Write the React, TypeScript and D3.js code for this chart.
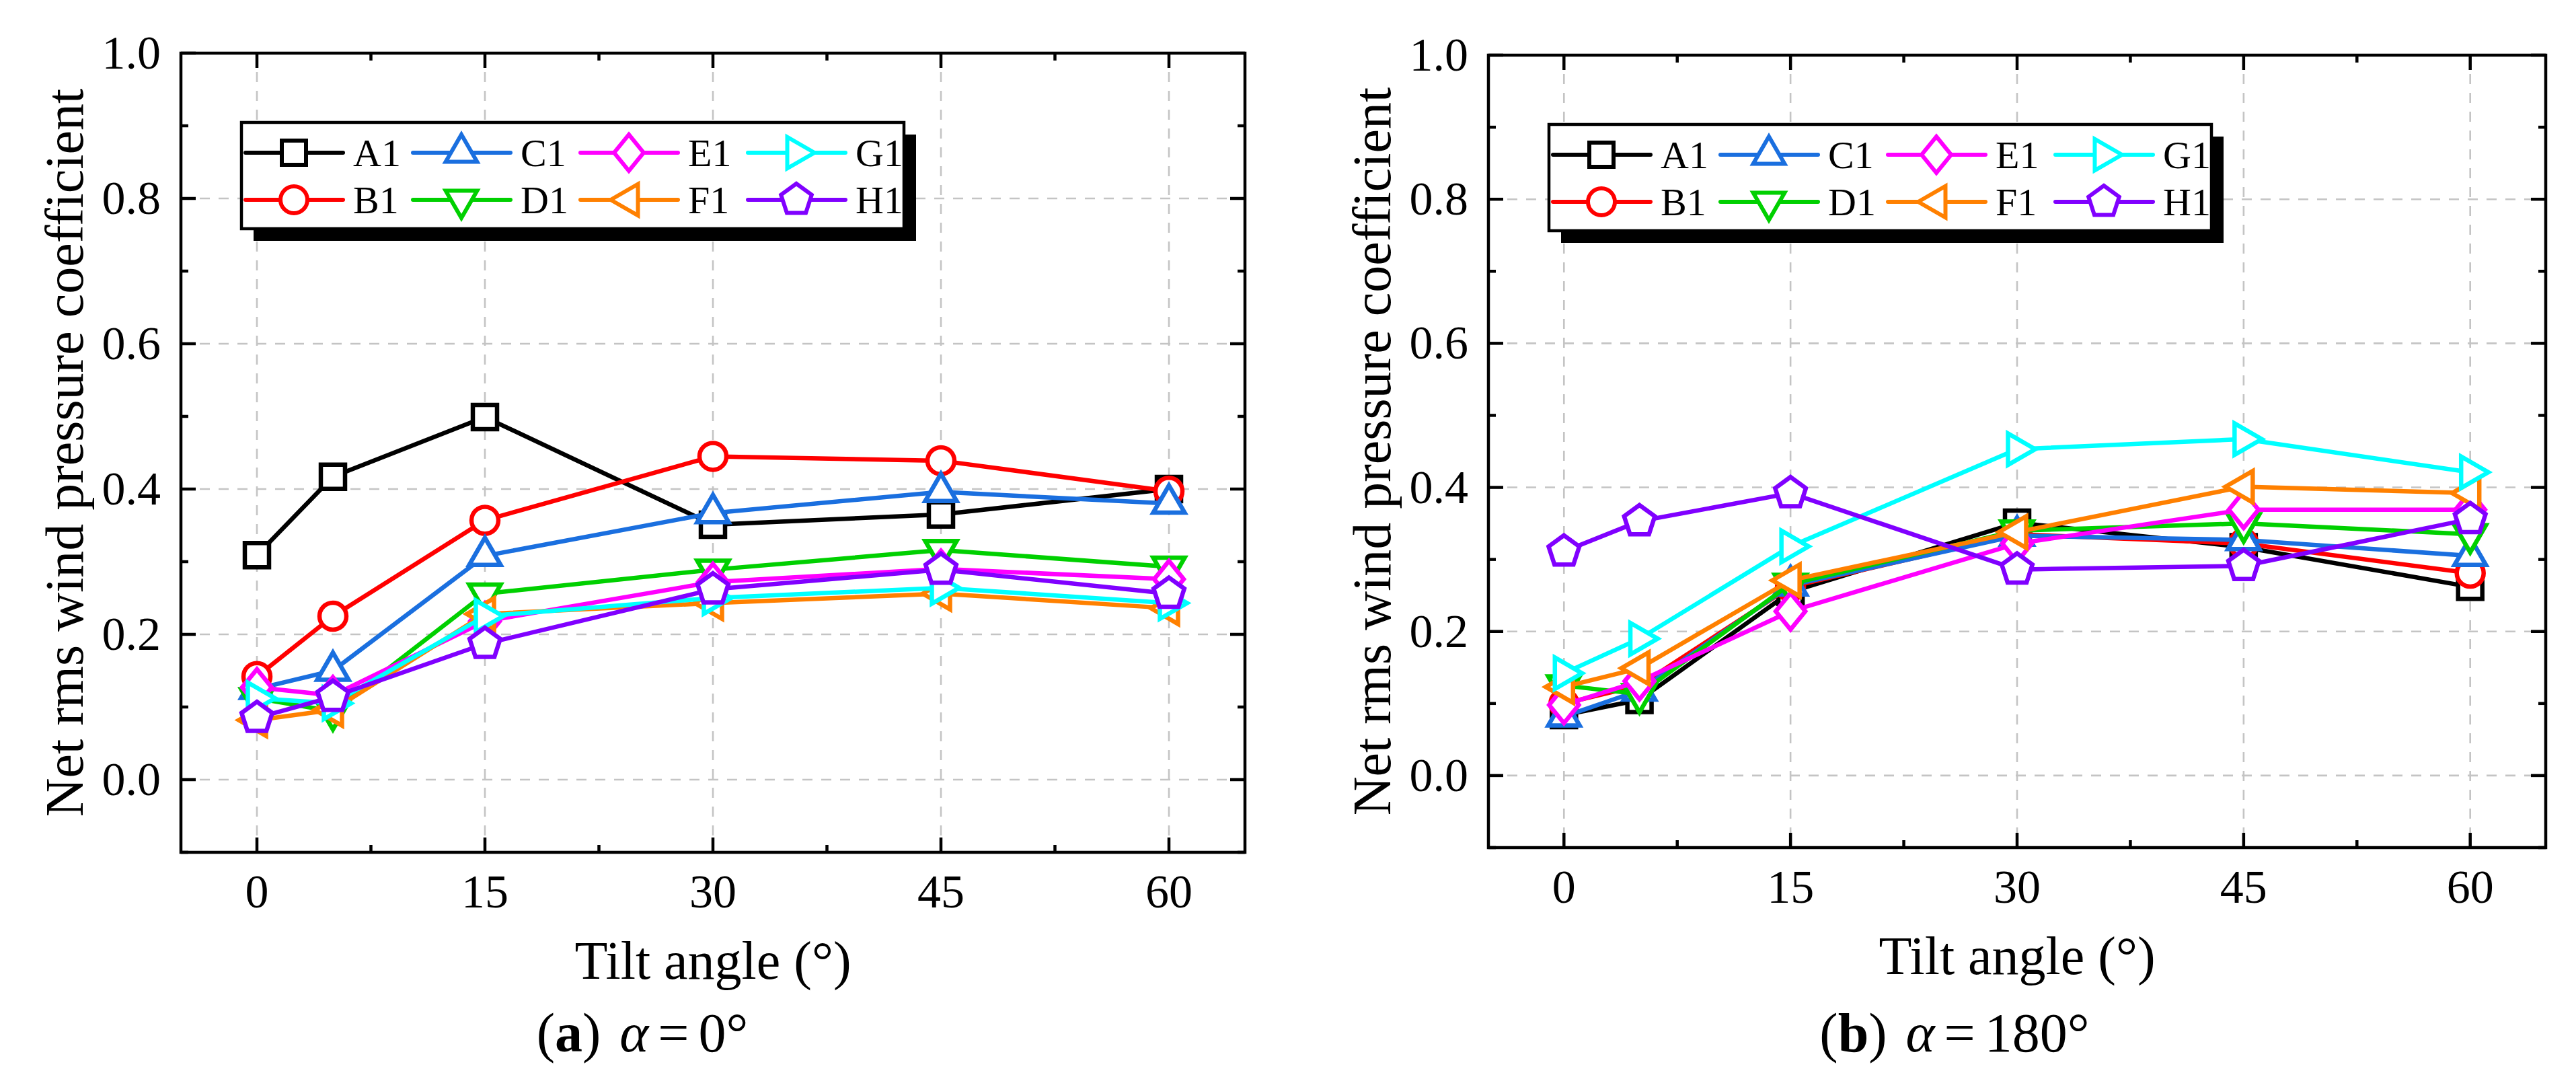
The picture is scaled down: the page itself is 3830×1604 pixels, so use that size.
import React from 'react';
import * as d3 from 'd3';

// ---------- data ----------
const tiltAngles = [0, 5, 15, 30, 45, 60];
const seriesNames = ['A1', 'B1', 'C1', 'D1', 'E1', 'F1', 'G1', 'H1'];
const seriesColors = ['#000000', '#ff0000', '#1a6fdf', '#00d000', '#ff00ff', '#ff8000', '#00ffff', '#8000ff'];
const seriesShapes = ['square', 'circle', 'triUp', 'triDown', 'diamond', 'triLeft', 'triRight', 'pentagon'];

// (a) alpha = 0°
const a0_A1 = [0.309, 0.417, 0.499, 0.351, 0.365, 0.400];
const a0_B1 = [0.142, 0.225, 0.357, 0.445, 0.439, 0.397];
const a0_C1 = [0.125, 0.150, 0.308, 0.367, 0.396, 0.380];
const a0_D1 = [0.112, 0.094, 0.256, 0.289, 0.316, 0.293];
const a0_E1 = [0.127, 0.116, 0.218, 0.272, 0.290, 0.276];
const a0_F1 = [0.082, 0.096, 0.228, 0.243, 0.256, 0.236];
const a0_G1 = [0.112, 0.105, 0.225, 0.250, 0.264, 0.243];
const a0_H1 = [0.085, 0.114, 0.187, 0.262, 0.289, 0.256];

// (b) alpha = 180°
const a180_A1 = [0.084, 0.105, 0.255, 0.351, 0.317, 0.262];
const a180_B1 = [0.100, 0.125, 0.262, 0.335, 0.322, 0.281];
const a180_C1 = [0.082, 0.118, 0.264, 0.333, 0.327, 0.305];
const a180_D1 = [0.125, 0.113, 0.266, 0.340, 0.350, 0.335];
const a180_E1 = [0.098, 0.131, 0.228, 0.322, 0.369, 0.369];
const a180_F1 = [0.123, 0.149, 0.271, 0.338, 0.401, 0.392];
const a180_G1 = [0.142, 0.190, 0.318, 0.453, 0.467, 0.421];
const a180_H1 = [0.311, 0.353, 0.392, 0.286, 0.291, 0.356];

const panelAValues = [a0_A1, a0_B1, a0_C1, a0_D1, a0_E1, a0_F1, a0_G1, a0_H1];
const panelBValues = [a180_A1, a180_B1, a180_C1, a180_D1, a180_E1, a180_F1, a180_G1, a180_H1];

const xMajorTicks = [0, 15, 30, 45, 60];
const xMinorTicks = [7.5, 22.5, 37.5, 52.5];
const yMajorTicks = [0, 0.2, 0.4, 0.6, 0.8, 1.0];
const yMinorTicks = [-0.1, 0.1, 0.3, 0.5, 0.7, 0.9];
const yLabel = 'Net rms wind pressure coefficient';
const xLabel = 'Tilt angle (°)';

const FONT = '"Liberation Serif", "Times New Roman", Times, serif';

// ---------- markers ----------
function markerPath(shape: string): string {
  const s60 = Math.sin(Math.PI / 3);
  if (shape === 'square') {
    const h = 18;
    return `M${-h},${-h}H${h}V${h}H${-h}Z`;
  }
  if (shape === 'circle') {
    const r = 20;
    return `M${r},0A${r},${r} 0 1,1 ${-r},0A${r},${r} 0 1,1 ${r},0Z`;
  }
  if (shape === 'diamond') {
    const w = 22, h = 27;
    return `M0,${-h}L${w},0L0,${h}L${-w},0Z`;
  }
  if (shape === 'pentagon') {
    const R = 24;
    const pts = d3.range(5).map((k) => {
      const a = -Math.PI / 2 + (k * 2 * Math.PI) / 5;
      return [R * Math.cos(a), R * Math.sin(a)];
    });
    return 'M' + pts.map((p) => p.join(',')).join('L') + 'Z';
  }
  const R = 27;
  let pts: number[][] = [];
  if (shape === 'triUp') pts = [[0, -R], [R * s60, R / 2], [-R * s60, R / 2]];
  if (shape === 'triDown') pts = [[0, R], [R * s60, -R / 2], [-R * s60, -R / 2]];
  if (shape === 'triLeft') pts = [[-R, 0], [R / 2, -R * s60], [R / 2, R * s60]];
  if (shape === 'triRight') pts = [[R, 0], [-R / 2, -R * s60], [-R / 2, R * s60]];
  return 'M' + pts.map((p) => p.join(',')).join('L') + 'Z';
}

interface PanelProps {
  left: number;
  right: number;
  top: number;
  bottom: number;
  values: number[][];
  caption: string;
  angle: string;
  captionShift: number;
}

function Panel({ left, right, top, bottom, values, caption, angle, captionShift }: PanelProps) {
  const x = d3.scaleLinear().domain([-5, 65]).range([left, right]);
  const y = d3.scaleLinear().domain([-0.1, 1.0]).range([bottom, top]);
  const line = d3
    .line<number>()
    .x((_, i) => x(tiltAngles[i]))
    .y((v) => y(v));
  const cx = (left + right) / 2;
  const cy = (top + bottom) / 2;
  const majorLen = 22;
  const minorLen = 11;
  const gridColor = '#c4c4c4';

  // legend geometry
  const lgX = left + 90;
  const lgY = top + 103;
  const lgW = 985;
  const lgH = 158;
  const colW = 249;

  return (
    <g>
      {/* gridlines */}
      {yMajorTicks
        .filter((t) => t < 1)
        .map((t) => (
          <line key={'gy' + t} x1={left} x2={right} y1={y(t)} y2={y(t)} stroke={gridColor} strokeWidth={2.6} strokeDasharray="15,13" />
        ))}
      {xMajorTicks.map((t) => (
        <line key={'gx' + t} x1={x(t)} x2={x(t)} y1={top} y2={bottom} stroke={gridColor} strokeWidth={2.6} strokeDasharray="15,13" />
      ))}

      {/* data */}
      {values.map((vals, si) => (
        <g key={seriesNames[si]}>
          <path d={line(vals) || ''} fill="none" stroke={seriesColors[si]} strokeWidth={6.5} strokeLinejoin="round" />
          {vals.map((v, i) => (
            <path
              key={i}
              d={markerPath(seriesShapes[si])}
              transform={`translate(${x(tiltAngles[i])},${y(v)})`}
              fill="#ffffff"
              stroke={seriesColors[si]}
              strokeWidth={6.5}
              strokeLinejoin="miter"
            />
          ))}
        </g>
      ))}

      {/* legend */}
      <rect x={lgX + 18} y={lgY + 18} width={lgW} height={lgH} fill="#000" />
      <rect x={lgX} y={lgY} width={lgW} height={lgH} fill="#fff" stroke="#000" strokeWidth={4.5} />
      {seriesNames.map((name, si) => {
        const col = Math.floor(si / 2);
        const row = si % 2;
        const ly = lgY + 45 + row * 70;
        const lx = lgX + 6 + col * colW;
        return (
          <g key={'lg' + name}>
            <line x1={lx} x2={lx + 145} y1={ly} y2={ly} stroke={seriesColors[si]} strokeWidth={6} strokeLinecap="round" />
            <path d={markerPath(seriesShapes[si])} transform={`translate(${lx + 72},${ly})`} fill="#fff" stroke={seriesColors[si]} strokeWidth={6} />
            <text x={lx + 160} y={ly + 20} fontFamily={FONT} fontSize={58} fill="#000">
              {name}
            </text>
          </g>
        );
      })}

      {/* frame */}
      <rect x={left} y={top} width={right - left} height={bottom - top} fill="none" stroke="#000" strokeWidth={4.5} />

      {/* ticks */}
      {xMajorTicks.map((t) => (
        <g key={'xt' + t}>
          <line x1={x(t)} x2={x(t)} y1={bottom} y2={bottom - majorLen} stroke="#000" strokeWidth={4.5} />
          <line x1={x(t)} x2={x(t)} y1={top} y2={top + majorLen} stroke="#000" strokeWidth={4.5} />
          <text x={x(t)} y={bottom + 82} textAnchor="middle" fontFamily={FONT} fontSize={70} fill="#000">
            {d3.format('d')(t)}
          </text>
        </g>
      ))}
      {xMinorTicks.map((t) => (
        <g key={'xm' + t}>
          <line x1={x(t)} x2={x(t)} y1={bottom} y2={bottom - minorLen} stroke="#000" strokeWidth={4.5} />
          <line x1={x(t)} x2={x(t)} y1={top} y2={top + minorLen} stroke="#000" strokeWidth={4.5} />
        </g>
      ))}
      {yMajorTicks.map((t) => (
        <g key={'yt' + t}>
          <line x1={left} x2={left + majorLen} y1={y(t)} y2={y(t)} stroke="#000" strokeWidth={4.5} />
          <line x1={right} x2={right - majorLen} y1={y(t)} y2={y(t)} stroke="#000" strokeWidth={4.5} />
          <text x={left - 30} y={y(t) + 23} textAnchor="end" fontFamily={FONT} fontSize={70} fill="#000">
            {d3.format('.1f')(t)}
          </text>
        </g>
      ))}
      {yMinorTicks.map((t) => (
        <g key={'ym' + t}>
          <line x1={left} x2={left + minorLen} y1={y(t)} y2={y(t)} stroke="#000" strokeWidth={4.5} />
          <line x1={right} x2={right - minorLen} y1={y(t)} y2={y(t)} stroke="#000" strokeWidth={4.5} />
        </g>
      ))}

      {/* axis titles */}
      <text x={cx} y={bottom + 188} textAnchor="middle" fontFamily={FONT} fontSize={80} fill="#000">
        {xLabel}
      </text>
      <text
        transform={`translate(${left - 146},${cy}) rotate(-90)`}
        textAnchor="middle"
        fontFamily={FONT}
        fontSize={80}
        fill="#000"
      >
        {yLabel}
      </text>

      {/* caption */}
      <text x={cx + captionShift} y={1563} textAnchor="middle" fontFamily={FONT} fontSize={82} fill="#000">
        <tspan>(</tspan>
        <tspan fontWeight="bold">{caption}</tspan>
        <tspan>)</tspan>
        <tspan dx={28} fontStyle="italic">α</tspan>
        <tspan dx={14}>=</tspan>
        <tspan dx={14}>{angle}</tspan>
      </text>
    </g>
  );
}

export default function App() {
  return (
    <svg
      width={3830}
      height={1604}
      viewBox="0 0 3830 1604"
      style={{ position: 'absolute', left: 0, top: 0, background: '#fff' }}
    >
      <rect x={0} y={0} width={3830} height={1604} fill="#fff" />
      <Panel left={269} right={1851} top={79} bottom={1267} values={panelAValues} caption="a" angle="0°" captionShift={-105} />
      <Panel left={2213} right={3785} top={82} bottom={1260} values={panelBValues} caption="b" angle="180°" captionShift={-93} />
    </svg>
  );
}
